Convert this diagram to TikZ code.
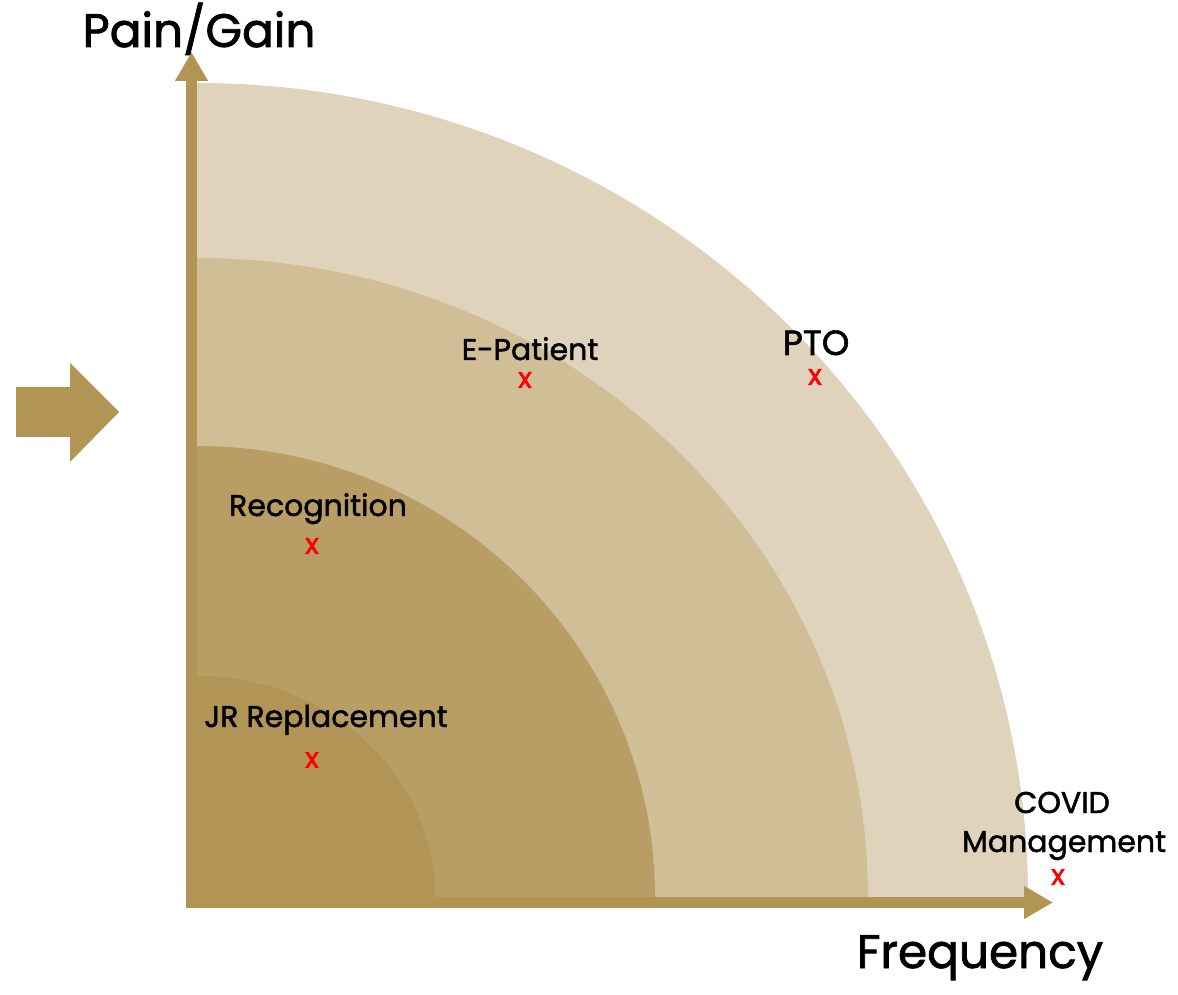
\documentclass[tikz,border=0pt]{standalone}
\usepackage{fontspec}
\setmainfont{Poppins}[FakeBold=1.6,AutoFakeBold=1.6]
\newfontfamily\medfont{Poppins}[FakeBold=1.6]
\usetikzlibrary{arrows.meta}
\definecolor{bandA}{RGB}{223,212,187}
\definecolor{bandB}{RGB}{208,190,150}
\definecolor{bandC}{RGB}{184,158,100}
\definecolor{bandD}{RGB}{178,149,86}
\definecolor{axiscol}{RGB}{178,148,84}
\definecolor{markred}{RGB}{255,0,0}
\tikzset{
  lbl/.style={anchor=base, font=\medfont\fontsize{30}{33}\selectfont, text=black, inner sep=0pt},
  axlbl/.style={anchor=base, font=\medfont\fontsize{47}{50}\selectfont, text=black, inner sep=0pt},
  xmark/.style={font=\medfont\fontsize{29}{30}\selectfont, text=markred, inner sep=0pt},
  axisline/.style={draw=axiscol, line width=11pt, -{Triangle[length=29pt,width=31pt]}}
}
\begin{document}
\begin{tikzpicture}[x=1pt,y=1pt]
\useasboundingbox (0,0) rectangle (1178,994);
\coordinate (O) at (197,97);
% bands
\fill[bandA] (O) -- (197,911) arc[start angle=90,end angle=0,x radius=831,y radius=814] -- cycle;
\fill[bandB] (O) -- (197,736) arc[start angle=90,end angle=0,x radius=671,y radius=639] -- cycle;
\fill[bandC] (O) -- (197,548) arc[start angle=90,end angle=0,x radius=458,y radius=451] -- cycle;
\fill[bandD] (O) -- (197,318) arc[start angle=90,end angle=0,x radius=238,y radius=221] -- cycle;
% axes
\coordinate (ybot) at (191.5,86);
\coordinate (ytop) at (191.5,942);
\coordinate (xl) at (186,91.5);
\coordinate (xr) at (1053,91.5);
\draw[axisline] (ybot) -- (ytop);
\draw[axisline] (xl) -- (xr);
% left arrow
\fill[axiscol] (16,607) -- (70,607) -- (70,631) -- (119,582) -- (70,532) -- (70,557) -- (16,557) -- cycle;
% axis labels
\node[axlbl] (painlbl) at (199,947) {Pain/Gain};
\node[axlbl] (freqlbl) at (980,26) {Frequency};
% items
\node[lbl, font=\medfont\fontsize{35}{38}\selectfont] (pto) at (816,639) {PTO};
\node[xmark] (ptox) at (815,617) {x};
\node[lbl] (epat) at (530,634) {E-Patient};
\node[xmark] (epatx) at (525,614) {x};
\node[lbl] (recog) at (318,478) {Recognition};
\node[xmark] (recogx) at (312,448) {x};
\node[lbl] (jr) at (326,267) {JR Replacement};
\node[xmark] (jrx) at (312,234) {x};
\node[lbl] (covid) at (1062,181) {COVID};
\node[lbl] (mgmt) at (1064,142) {Management};
\node[xmark] (mgmtx) at (1058,117) {x};
\end{tikzpicture}
\end{document}
